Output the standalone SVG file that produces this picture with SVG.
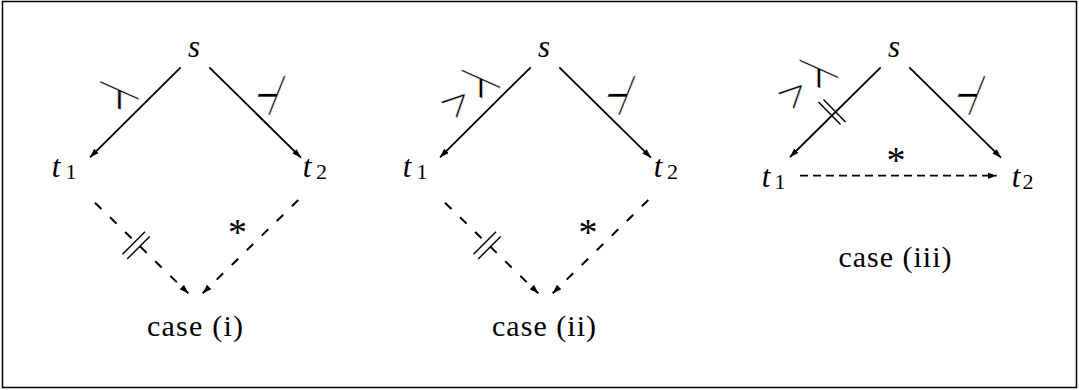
<svg xmlns="http://www.w3.org/2000/svg" width="1079" height="390" viewBox="0 0 1079 390">
<style>
.m{font-family:"Liberation Serif",serif;font-style:italic;font-size:31px;fill:#000}
.sub{font-family:"Liberation Serif",serif;font-size:22px;fill:#000}
.r{font-family:"Liberation Serif",serif;font-size:30px;fill:#000}
.sym{font-family:"DejaVu Sans",sans-serif;font-size:40px;fill:#000;stroke:#fff;stroke-width:0.6px;paint-order:fill stroke}
.gt{font-family:"Liberation Serif",serif;font-size:48px;fill:#000;stroke:#fff;stroke-width:0.5px;paint-order:fill stroke}
.ast{font-family:"Liberation Serif",serif;font-size:38px;fill:#000}
.e{stroke:#000;stroke-width:1.8;fill:none;marker-end:url(#ah)}
.d{stroke:#000;stroke-width:2;fill:none;stroke-dasharray:9 12;marker-end:url(#ah)}
.dh{stroke:#000;stroke-width:1.8;fill:none;stroke-dasharray:8 5;marker-end:url(#ah)}
.tk{stroke:#000;stroke-width:1.4;fill:none}
</style>
<defs>
<marker id="ah" viewBox="0 0 10 7" refX="10" refY="3.5" markerWidth="9" markerHeight="6.5" markerUnits="userSpaceOnUse" orient="auto"><path d="M0,0 L10,3.5 L0,7 z" fill="#000"/></marker>
</defs>
<rect x="2.5" y="1.5" width="1074" height="386" fill="#fff" stroke="#000" stroke-width="1.5"/>

<g id="connectors">
<line class="e" x1="180.7" y1="67.3" x2="90" y2="157.3"/>
<line class="e" x1="209.3" y1="67.3" x2="301" y2="157.7"/>
<line class="d" x1="95" y1="202.7" x2="188.3" y2="293.3"/>
<line class="d" x1="298.3" y1="200" x2="202.7" y2="293.3"/>
<line class="e" x1="530.7" y1="67.3" x2="440" y2="157.3"/>
<line class="e" x1="559.3" y1="67.3" x2="651" y2="157.7"/>
<line class="d" x1="445" y1="202.7" x2="538.3" y2="293.3"/>
<line class="d" x1="648.3" y1="200" x2="552.7" y2="293.3"/>
<line class="e" x1="880.7" y1="67.3" x2="790" y2="157"/>
<line class="e" x1="909.3" y1="67.3" x2="1001" y2="157.7"/>
<line class="dh" x1="800" y1="175.7" x2="996.7" y2="175.7"/>
</g>

<g id="labels">
<g transform="translate(119.4,99) skewY(24) scale(1.4,0.7)"><text class="sym" x="0" y="14.6" text-anchor="middle" vector-effect="non-scaling-stroke">⊤</text></g>
<g transform="translate(268.3,95) skewX(-22) scale(0.7,1.4)"><text class="sym" x="0" y="14.6" text-anchor="middle" vector-effect="non-scaling-stroke">⊣</text></g>
<line class="tk" x1="122.5" y1="254.3" x2="145" y2="231.8"/>
<line class="tk" x1="127.2" y1="259" x2="149.7" y2="236.5"/>
<text class="ast" x="237.5" y="245" text-anchor="middle">*</text>

<g transform="translate(481,87.3) skewY(24) scale(1.4,0.7)"><text class="sym" x="0" y="14.6" text-anchor="middle" vector-effect="non-scaling-stroke">⊤</text></g>
<g transform="translate(459.7,105) rotate(-45)"><text class="gt" x="0" y="12" text-anchor="middle">&gt;</text></g>
<g transform="translate(618.3,95) skewX(-22) scale(0.7,1.4)"><text class="sym" x="0" y="14.6" text-anchor="middle" vector-effect="non-scaling-stroke">⊣</text></g>
<line class="tk" x1="473.5" y1="254.3" x2="496" y2="231.8"/>
<line class="tk" x1="478.2" y1="259" x2="500.7" y2="236.5"/>
<text class="ast" x="588" y="245" text-anchor="middle">*</text>

<g transform="translate(818.8,77.3) skewY(24) scale(1.4,0.7)"><text class="sym" x="0" y="14.6" text-anchor="middle" vector-effect="non-scaling-stroke">⊤</text></g>
<g transform="translate(796.5,96) rotate(-45)"><text class="gt" x="0" y="12" text-anchor="middle">&gt;</text></g>
<g transform="translate(968.3,95) skewX(-22) scale(0.7,1.4)"><text class="sym" x="0" y="14.6" text-anchor="middle" vector-effect="non-scaling-stroke">⊣</text></g>
<line class="tk" x1="818.5" y1="102" x2="840.5" y2="124.5"/>
<line class="tk" x1="823.5" y1="99.5" x2="845.5" y2="122"/>
<text class="ast" x="896" y="172.5" text-anchor="middle">*</text>
</g>

<g id="s1"><text class="m" x="194" y="57" text-anchor="middle">s</text></g>
<g id="t1a"><text class="m" x="56" y="177" text-anchor="middle">t</text><text class="sub" x="71" y="179" text-anchor="middle">1</text></g>
<g id="t2a"><text class="m" x="307" y="177" text-anchor="middle">t</text><text class="sub" x="321.5" y="179" text-anchor="middle">2</text></g>
<g id="case1"><text class="r" x="195" y="336" text-anchor="middle" textLength="96" lengthAdjust="spacing">case (i)</text></g>

<g id="s2"><text class="m" x="544" y="57" text-anchor="middle">s</text></g>
<g id="t1b"><text class="m" x="407" y="177" text-anchor="middle">t</text><text class="sub" x="422" y="179" text-anchor="middle">1</text></g>
<g id="t2b"><text class="m" x="658" y="177" text-anchor="middle">t</text><text class="sub" x="672.5" y="179" text-anchor="middle">2</text></g>
<g id="case2"><text class="r" x="544" y="336" text-anchor="middle" textLength="104" lengthAdjust="spacing">case (ii)</text></g>

<g id="s3"><text class="m" x="894" y="57" text-anchor="middle">s</text></g>
<g id="t1c"><text class="m" x="766" y="187" text-anchor="middle">t</text><text class="sub" x="780" y="189" text-anchor="middle">1</text></g>
<g id="t2c"><text class="m" x="1016" y="187" text-anchor="middle">t</text><text class="sub" x="1028" y="189" text-anchor="middle">2</text></g>
<g id="case3"><text class="r" x="895" y="267" text-anchor="middle" textLength="113" lengthAdjust="spacing">case (iii)</text></g>
</svg>
